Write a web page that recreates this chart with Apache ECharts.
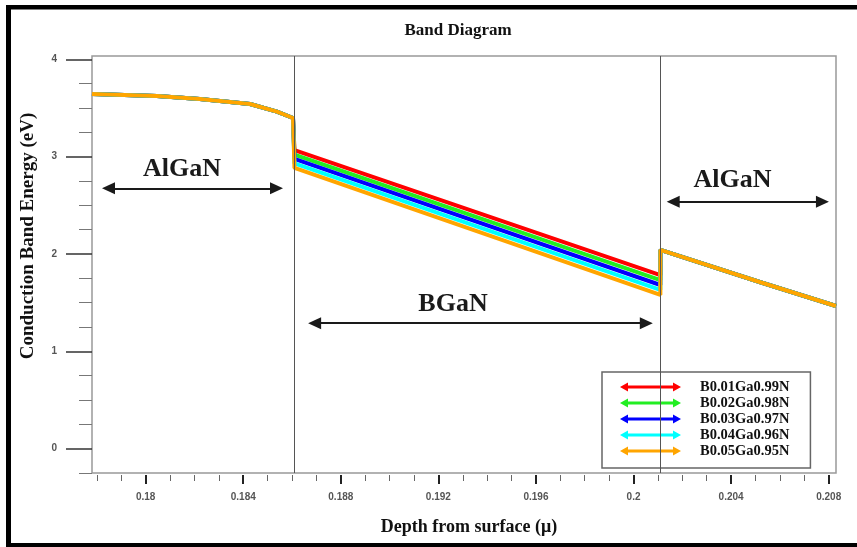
<!DOCTYPE html>
<html><head><meta charset="utf-8">
<script src="https://cdn.jsdelivr.net/npm/echarts@6/dist/echarts.min.js"></script>
<style>html,body{margin:0;padding:0;background:#fff}#c{width:857px;height:547px}</style>
</head><body><div id="c"></div>
<script>
// ---------- data ----------
const seriesNames = ['B0.01Ga0.99N','B0.02Ga0.98N','B0.03Ga0.97N','B0.04Ga0.96N','B0.05Ga0.95N'];
const seriesColors = ['#ff0000','#22ee22','#0000ff','#00ffff','#ffa500'];
const leftAlGaNDepth  = [0.1778, 0.18046, 0.18222, 0.18428, 0.18538, 0.18604];
const leftAlGaNEnergy = [3.645, 3.624, 3.593, 3.542, 3.463, 3.398];
const interfaceDepth = [0.1861, 0.2011];
const bganStartEnergy = [3.067, 3.022, 2.977, 2.932, 2.886];
const bganEndEnergy   = [1.783, 1.732, 1.682, 1.632, 1.581];
const rightAlGaNDepth  = [0.2011, 0.2052, 0.2083];
const rightAlGaNEnergy = [2.042, 1.71, 1.466];
const xMajorTicks = [0.18, 0.184, 0.188, 0.192, 0.196, 0.2, 0.204, 0.208];
const xTickLabels = ['0.18','0.184','0.188','0.192','0.196','0.2','0.204','0.208'];
const xMinorTicks = [0.178,0.179,0.181,0.182,0.183,0.185,0.186,0.187,0.189,0.19,0.191,0.193,0.194,0.195,0.197,0.198,0.199,0.201,0.202,0.203,0.205,0.206,0.207];
const yMajorTicks = [0, 1, 2, 3, 4];
const yTickLabels = ['0','1','2','3','4'];
const yMinorTicks = [-0.25,0.25,0.5,0.75,1.25,1.5,1.75,2.25,2.5,2.75,3.25,3.5,3.75];
const regionLabels = ['AlGaN', 'BGaN', 'AlGaN'];
const regionLabelPos = [[0.18149, 2.874], [0.1926, 1.487], [0.20406, 2.756]];
const arrowSpans = [[0.17821, 0.18563, 2.676], [0.18666, 0.20079, 1.289], [0.20136, 0.20801, 2.538]];

const X_MIN = 0.1778, X_MAX = 0.2083, Y_MIN = -0.25, Y_MAX = 4.035;
const SERIF = '"Liberation Serif", "Times New Roman", serif';
const SANS = '"Liberation Sans", Arial, sans-serif';

// ---------- build ----------
function seriesData(i) {
  const d = [];
  leftAlGaNDepth.forEach((x, k) => d.push([x, leftAlGaNEnergy[k]]));
  d.push([interfaceDepth[0], bganStartEnergy[i]]);
  d.push([interfaceDepth[1], bganEndEnergy[i]]);
  rightAlGaNDepth.forEach((x, k) => d.push([x, rightAlGaNEnergy[k]]));
  return d;
}
const ARROW_HALF = 0.000266; // half arrow-head length in depth units
const series = seriesNames.map((name, i) => ({
  name, type: 'line', data: seriesData(i), showSymbol: false, symbol: 'none',
  itemStyle: { color: seriesColors[i] },
  lineStyle: { color: seriesColors[i], width: 4 }, z: 2
}));
series.push({
  type: 'line', data: [], silent: true, z: 5,
  markLine: {
    silent: true, symbol: 'none', animation: false, precision: 6,
    label: { show: false },
    lineStyle: { color: '#555', width: 1, type: 'solid' },
    data: interfaceDepth.map(x => ({ xAxis: x }))
  }
});
series.push({
  type: 'line', data: [], silent: true, z: 6,
  markLine: {
    silent: true, symbol: ['triangle', 'triangle'], symbolSize: [12, 13], animation: false, precision: 6,
    label: { show: false },
    lineStyle: { color: '#1a1a1a', width: 2, type: 'solid' },
    data: arrowSpans.map(a => [{ coord: [a[0] + ARROW_HALF, a[2]] }, { coord: [a[1] - ARROW_HALF, a[2]] }])
  },
  markPoint: {
    silent: true, animation: false, symbol: 'rect', symbolSize: 1,
    itemStyle: { color: 'rgba(0,0,0,0)' },
    label: { show: true, position: 'inside', formatter: '{b}', color: '#1a1a1a',
             fontFamily: SERIF, fontWeight: 'bold', fontSize: 26 },
    data: regionLabels.map((t, k) => ({ name: t, coord: regionLabelPos[k] }))
  }
});

const axisCommon = { type: 'value', splitLine: { show: false }, axisLine: { show: false, onZero: false } };
const option = {
  animation: false,
  backgroundColor: '#ffffff',
  grid: { left: 92, top: 56, width: 744, height: 417, show: true, borderColor: '#999', borderWidth: 1.5,
          backgroundColor: 'transparent', containLabel: false },
  xAxis: [
    Object.assign({}, axisCommon, { min: X_MIN, max: X_MAX, position: 'bottom', offset: 2,
      axisTick: { show: true, customValues: xMajorTicks, length: 9, lineStyle: { color: '#222', width: 2 } },
      axisLabel: { show: true, customValues: xMajorTicks, margin: 17,
        formatter: v => { const k = xMajorTicks.findIndex(t => Math.abs(t - v) < 1e-9); return k >= 0 ? xTickLabels[k] : ''; },
        fontSize: 10, fontWeight: 'bold', color: '#555', fontFamily: SANS } }),
    Object.assign({}, axisCommon, { min: X_MIN, max: X_MAX, position: 'bottom', offset: 2,
      axisTick: { show: true, customValues: xMinorTicks, length: 6, lineStyle: { color: '#666', width: 1 } },
      axisLabel: { show: false } })
  ],
  yAxis: [
    Object.assign({}, axisCommon, { min: Y_MIN, max: Y_MAX, position: 'left',
      axisTick: { show: true, customValues: yMajorTicks, length: 26, lineStyle: { color: '#333', width: 1.5 } },
      axisLabel: { show: true, customValues: yMajorTicks, margin: 35,
        formatter: v => { const k = yMajorTicks.findIndex(t => Math.abs(t - v) < 1e-9); return k >= 0 ? yTickLabels[k] : ''; },
        fontSize: 10, fontWeight: 'bold', color: '#555', fontFamily: SANS } }),
    Object.assign({}, axisCommon, { min: Y_MIN, max: Y_MAX, position: 'left',
      axisTick: { show: true, customValues: yMinorTicks, length: 13, lineStyle: { color: '#777', width: 1 } },
      axisLabel: { show: false } })
  ],
  legend: {
    data: seriesNames, orient: 'vertical', left: 602, top: 372,
    backgroundColor: 'transparent', borderColor: '#666', borderWidth: 1.5, borderRadius: 0,
    padding: [7, 21, 9, 18], itemWidth: 61, itemHeight: 10, itemGap: 0,
    icon: 'path://M0,5 L8,0.5 L8,3.5 L53,3.5 L53,0.5 L61,5 L53,9.5 L53,6.5 L8,6.5 L8,9.5 Z',
    itemStyle: { borderWidth: 0 },
    selectedMode: false,
    textStyle: { fontFamily: SERIF, fontWeight: 'bold', fontSize: 14.5, lineHeight: 16, color: '#111', padding: [0, 0, 0, 14] }
  },
  graphic: [
    { type: 'rect', shape: { x: 6, y: 5, width: 5, height: 542 }, style: { fill: '#000' }, silent: true },
    { type: 'rect', shape: { x: 6, y: 5, width: 851, height: 4.5 }, style: { fill: '#000' }, silent: true },
    { type: 'rect', shape: { x: 6, y: 543, width: 851, height: 4 }, style: { fill: '#000' }, silent: true },
    { type: 'text', x: 458, y: 31, silent: true,
      style: { text: 'Band Diagram', font: 'bold 17px ' + SERIF, fill: '#111', align: 'center', verticalAlign: 'middle' } },
    { type: 'text', x: 469, y: 527, silent: true,
      style: { text: 'Depth from surface (μ)', font: 'bold 18px ' + SERIF, fill: '#111', align: 'center', verticalAlign: 'middle' } },
    { type: 'text', x: 28.5, y: 236, rotation: Math.PI / 2, silent: true,
      style: { text: 'Conduction Band Energy (eV)', font: 'bold 19px ' + SERIF, fill: '#111', align: 'center', verticalAlign: 'middle' } }
  ],
  series
};
const chart = echarts.init(document.getElementById('c'), null, { renderer: 'canvas' });
chart.setOption(option);
</script>
</body></html>
